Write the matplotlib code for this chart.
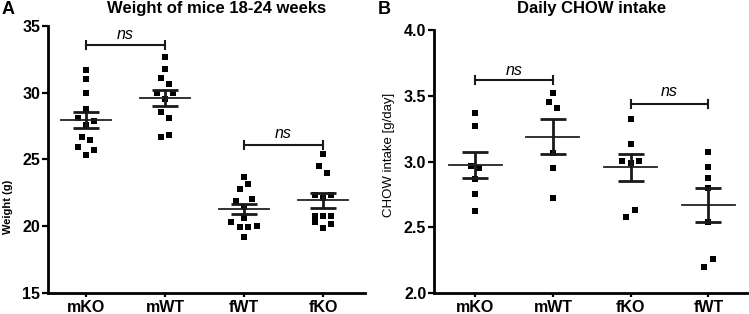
import numpy as np
import matplotlib
matplotlib.use("Agg")
import matplotlib.pyplot as plt

plt.rcParams['font.family'] = ['Liberation Sans', 'DejaVu Sans']

# ---- Panel A: body weight (g), mice 18-24 weeks ----
groups_a = ["mKO", "mWT", "fWT", "fKO"]
weight_mko = [31.7, 31.0, 29.97, 28.79, 28.1, 27.89, 27.6, 26.68, 26.47, 25.93, 25.73, 25.35]
weight_mwt = [32.66, 31.78, 31.09, 30.64, 30.01, 30.01, 29.52, 28.59, 28.14, 26.65, 26.8]
weight_fwt = [23.68, 23.18, 22.81, 21.91, 22.06, 21.44, 20.62, 20.29, 19.91, 19.91, 19.99, 19.2]
weight_fko = [25.4, 24.55, 23.98, 22.36, 22.36, 22.11, 20.74, 20.32, 20.74, 19.87, 20.74, 20.2]
# horizontal scatter slot of each point (as plotted)
slot_a = [
    [0, 0, 0, 0, -2, 2, 0, -1, 1, -2, 2, 0],
    [0, 0, -1, 1, -2, 2, 0, -1, 1, -1, 1],
    [0, 1, -1, -2, 2, 0, 0, -3, -1, 1, 3, 0],
    [0, -1, 1, -2, 2, 0, -2, -2, 0, 0, 2, 2],
]
mean_a = [27.94, 29.64, 21.29, 21.94]
sem_a = [0.60, 0.60, 0.39, 0.56]

# ---- Panel B: daily chow intake (g/day) ----
groups_b = ["mKO", "mWT", "fKO", "fWT"]
chow_mko = [3.371, 3.27, 2.968, 2.948, 2.867, 2.753, 2.626]
chow_mwt = [3.523, 3.452, 3.404, 3.062, 2.953, 2.722]
chow_fko = [3.323, 3.131, 3.004, 3.004, 2.986, 2.634, 2.58]
chow_fwt = [3.075, 2.956, 2.872, 2.796, 2.542, 2.256, 2.2]
slot_b = [
    [0, 0, -1, 1, 0, 0, 0],
    [0, -1, 1, 0, 0, 0],
    [0, 0, -2, 2, 0, 1, -1],
    [0, 0, 0, 0, 0, 1, -1],
]
mean_b = [2.973, 3.188, 2.955, 2.670]
sem_b = [0.100, 0.132, 0.101, 0.132]


def draw_panel(ax, labels, values, slots, means, sems, step, mw, cw):
    for i, (vals, sl) in enumerate(zip(values, slots)):
        x = i + step * np.array(sl)
        ax.plot(x, vals, "s", color="black", ms=4.5, mew=0, zorder=2)
        ax.plot([i - mw / 2, i + mw / 2], [means[i], means[i]], color="#222222", lw=1.3, zorder=3)
        ax.errorbar(i, means[i], yerr=sems[i], fmt="none", ecolor="#1a1a1a",
                    elinewidth=2.0, capsize=cw, capthick=2.0, zorder=3)
    ax.set_xticks(range(len(labels)))
    ax.set_xticklabels(labels, fontsize=11.5, fontweight="bold")
    for s in ["top", "right"]:
        ax.spines[s].set_visible(False)
    for s in ["left", "bottom"]:
        ax.spines[s].set_linewidth(2.0)
    ax.tick_params(axis="y", direction="out", length=4.5, width=1.6, labelsize=11.5, pad=1)
    ax.tick_params(axis="x", direction="out", length=3, width=1.6, pad=2)
    for t in ax.get_yticklabels():
        t.set_fontweight("bold")


def bracket(ax, x0, x1, y, h, ty):
    ax.plot([x0, x1], [y, y], color="#1a1a1a", lw=1.5)
    ax.plot([x0, x0], [y - h, y + h], color="#1a1a1a", lw=1.5)
    ax.plot([x1, x1], [y - h, y + h], color="#1a1a1a", lw=1.5)
    ax.text((x0 + x1) / 2, ty, "ns", ha="center", va="center", fontsize=11.5, style="italic")


fig = plt.figure(figsize=(7.49, 3.14), dpi=100)

W, H = 749.0, 314.0
ax1 = fig.add_axes([48 / W, 21 / H, 317 / W, 267 / H])
draw_panel(ax1, groups_a, [weight_mko, weight_mwt, weight_fwt, weight_fko],
           slot_a, mean_a, sem_a, 0.053, 0.63, 9.7)
ax1.set_xlim(-0.48, 3.53)
ax1.set_ylim(15, 35)
ax1.set_yticks([15, 20, 25, 30, 35])
bracket(ax1, 0, 1, 33.58, 0.3, 34.35)
bracket(ax1, 2, 3, 26.05, 0.3, 26.95)

ax2 = fig.add_axes([434 / W, 21 / H, 314 / W, 263 / H])
draw_panel(ax2, groups_b, [chow_mko, chow_mwt, chow_fko, chow_fwt],
           slot_b, mean_b, sem_b, 0.054, 0.68, 9.7)
ax2.set_xlim(-0.53, 3.51)
ax2.set_ylim(2.0, 4.0)
ax2.set_yticks([2.0, 2.5, 3.0, 3.5, 4.0])
ax2.set_yticklabels(["2.0", "2.5", "3.0", "3.5", "4.0"], fontweight="bold")
bracket(ax2, 0, 1, 3.62, 0.03, 3.695)
bracket(ax2, 2, 3, 3.437, 0.03, 3.53)

# titles, panel letters and y labels
fig.text(217 / W, 1 - 9 / H, "Weight of mice 18-24 weeks", ha="center", va="center",
         fontsize=12, fontweight="bold")
fig.text(592 / W, 1 - 9 / H, "Daily CHOW intake", ha="center", va="center",
         fontsize=12, fontweight="bold")
fig.text(2 / W, 1 - 9 / H, "A", ha="left", va="center", fontsize=13, fontweight="bold")
fig.text(378 / W, 1 - 9 / H, "B", ha="left", va="center", fontsize=13, fontweight="bold")
fig.text(8 / W, 1 - 207 / H, "Weight (g)", ha="center", va="center", rotation=90,
         fontsize=8, fontweight="bold")
fig.text(389 / W, 1 - 155 / H, "CHOW intake [g/day]", ha="center", va="center",
         rotation=90, fontsize=9.5)

fig.savefig("out.png", dpi=100)
